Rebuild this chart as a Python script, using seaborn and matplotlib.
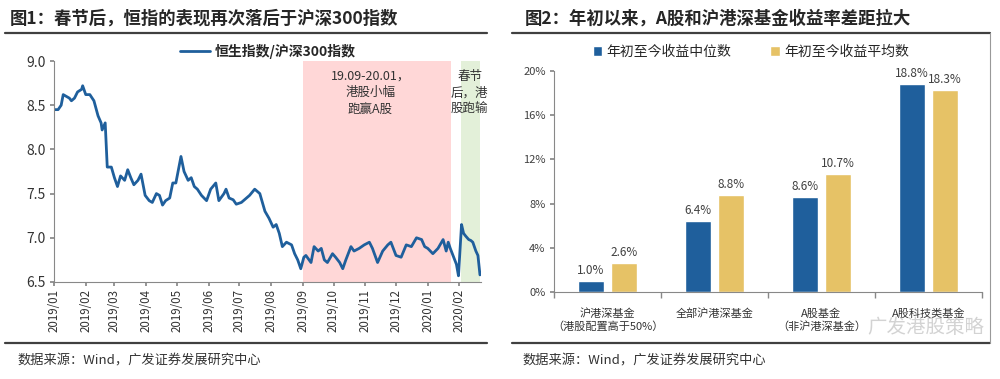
import numpy as np
import pandas as pd
import matplotlib
matplotlib.use("Agg")
import matplotlib.pyplot as plt
import matplotlib.dates as mdates
from matplotlib.lines import Line2D
from matplotlib.ticker import FuncFormatter
import seaborn as sns

# 恒生指数/沪深300指数
ratio_dates = [
    "2019-01-02", "2019-01-05", "2019-01-08", "2019-01-10", "2019-01-13", "2019-01-16",
    "2019-01-18", "2019-01-21", "2019-01-24", "2019-01-28", "2019-01-29", "2019-02-01",
    "2019-02-05", "2019-02-09", "2019-02-13", "2019-02-16", "2019-02-17", "2019-02-20",
    "2019-02-22", "2019-02-26", "2019-03-01", "2019-03-04", "2019-03-07", "2019-03-11",
    "2019-03-14", "2019-03-17", "2019-03-20", "2019-03-24", "2019-03-27", "2019-03-31",
    "2019-04-04", "2019-04-07", "2019-04-11", "2019-04-14", "2019-04-17", "2019-04-20",
    "2019-04-24", "2019-04-27", "2019-04-30", "2019-05-05", "2019-05-08", "2019-05-12",
    "2019-05-15", "2019-05-18", "2019-05-21", "2019-05-25", "2019-05-30", "2019-06-03",
    "2019-06-08", "2019-06-11", "2019-06-16", "2019-06-18", "2019-06-21", "2019-06-25",
    "2019-06-28", "2019-07-03", "2019-07-08", "2019-07-11", "2019-07-16", "2019-07-21",
    "2019-07-26", "2019-07-30", "2019-08-03", "2019-08-06", "2019-08-09", "2019-08-12",
    "2019-08-16", "2019-08-21", "2019-08-24", "2019-08-27", "2019-08-30", "2019-09-02",
    "2019-09-04", "2019-09-09", "2019-09-12", "2019-09-16", "2019-09-19", "2019-09-22",
    "2019-09-25", "2019-09-30", "2019-10-03", "2019-10-07", "2019-10-10", "2019-10-13",
    "2019-10-18", "2019-10-21", "2019-10-26", "2019-10-31", "2019-11-05", "2019-11-08",
    "2019-11-13", "2019-11-18", "2019-11-23", "2019-11-26", "2019-12-01", "2019-12-06",
    "2019-12-11", "2019-12-16", "2019-12-21", "2019-12-26", "2019-12-29", "2020-01-01",
    "2020-01-06", "2020-01-11", "2020-01-16", "2020-01-19", "2020-01-21", "2020-01-23",
    "2020-01-29", "2020-01-31", "2020-02-03", "2020-02-05", "2020-02-07", "2020-02-10",
    "2020-02-12", "2020-02-14", "2020-02-17", "2020-02-19", "2020-02-21",
]
ratio_values = [
    8.45, 8.45, 8.50, 8.62, 8.60, 8.58,
    8.55, 8.58, 8.65, 8.68, 8.72, 8.62,
    8.62, 8.55, 8.38, 8.30, 8.22, 8.30,
    7.80, 7.80, 7.68, 7.58, 7.70, 7.65,
    7.77, 7.68, 7.60, 7.65, 7.72, 7.48,
    7.42, 7.40, 7.50, 7.48, 7.37, 7.42,
    7.45, 7.62, 7.62, 7.92, 7.75, 7.65,
    7.68, 7.58, 7.55, 7.48, 7.42, 7.55,
    7.62, 7.42, 7.50, 7.55, 7.45, 7.43,
    7.38, 7.40, 7.45, 7.48, 7.55, 7.50,
    7.30, 7.22, 7.12, 7.15, 7.05, 6.90,
    6.95, 6.92, 6.82, 6.75, 6.65, 6.78,
    6.80, 6.72, 6.90, 6.85, 6.88, 6.75,
    6.72, 6.82, 6.78, 6.72, 6.65, 6.75,
    6.90, 6.85, 6.88, 6.92, 6.95, 6.88,
    6.72, 6.85, 6.92, 6.95, 6.80, 6.78,
    6.92, 6.90, 7.00, 6.98, 6.90, 6.88,
    6.82, 6.88, 6.98, 6.85, 6.95, 6.88,
    6.70, 6.57, 7.15, 7.05, 7.02, 6.98,
    6.97, 6.95, 6.85, 6.80, 6.58,
]

# 基金收益 (%)
fund_types = ["沪港深基金\n（港股配置高于50%）", "全部沪港深基金",
              "A股基金\n（非沪港深基金）", "A股科技类基金"]
median_ret = [1.0, 6.4, 8.6, 18.8]
mean_ret = [2.6, 8.8, 10.7, 18.3]
series_names = ["年初至今收益中位数", "年初至今收益平均数"]

sns.set_theme(style="white")
plt.rcParams["font.family"] = ["Noto Sans CJK SC", "DejaVu Sans"]
plt.rcParams["axes.unicode_minus"] = False

BLUE = "#1f5f9c"
GOLD = "#e6c266"

fig = plt.figure(figsize=(10, 3.79), dpi=100)

# ---------- chart 1 ----------
ax1 = fig.add_axes([0.054, 0.256, 0.427, 0.583])
df1 = pd.DataFrame({"date": pd.to_datetime(ratio_dates), "ratio": ratio_values})
ax1.axvspan(pd.Timestamp("2019-09-01"), pd.Timestamp("2020-01-24"), color="#ffd7d7", lw=0)
ax1.axvspan(pd.Timestamp("2020-02-02"), pd.Timestamp("2020-02-21"), color="#e3f0d9", lw=0)
sns.lineplot(data=df1, x="date", y="ratio", ax=ax1, color=BLUE, lw=2.0,
             label="恒生指数/沪深300指数")
ax1.set_xlim(pd.Timestamp("2019-01-01"), pd.Timestamp("2020-02-22"))
ax1.set_ylim(6.5, 9.0)
ax1.set_yticks([6.5, 7.0, 7.5, 8.0, 8.5, 9.0])
ax1.yaxis.set_major_formatter(FuncFormatter(lambda v, p: f"{v:.1f}"))
ax1.xaxis.set_major_locator(mdates.MonthLocator())
ax1.xaxis.set_major_formatter(mdates.DateFormatter("%Y/%m"))
ax1.set_xlabel("")
ax1.set_ylabel("")
for sp in ["top", "right"]:
    ax1.spines[sp].set_visible(False)
for sp in ["left", "bottom"]:
    ax1.spines[sp].set_color("#888888")
    ax1.spines[sp].set_linewidth(0.8)
ax1.tick_params(axis="x", bottom=True, direction="out", length=3, color="#888888",
                labelsize=8.3, labelcolor="#333333", rotation=90, pad=2)
ax1.tick_params(axis="y", left=True, direction="out", length=3, color="#888888",
                labelsize=10, labelcolor="#333333", pad=3)
ax1.legend(loc="lower center", bbox_to_anchor=(0.5, 0.985), frameon=False,
           prop={"size": 10, "weight": "bold"}, handlelength=2.2, borderaxespad=0,
           handletextpad=0.3)
ax1.text(pd.Timestamp("2019-11-06"), 8.9, "19.09-20.01，\n港股小幅\n跑赢A股",
         ha="center", va="top", fontsize=9, color="#333333", linespacing=1.35)
ax1.text(pd.Timestamp("2020-02-11"), 8.9, "春节\n后，港\n股跑输",
         ha="center", va="top", fontsize=9, color="#333333", linespacing=1.35)

# ---------- chart 2 ----------
ax2 = fig.add_axes([0.554, 0.2296, 0.428, 0.583])
df2 = pd.DataFrame({
    "type": fund_types * 2,
    "series": [series_names[0]] * 4 + [series_names[1]] * 4,
    "ret": median_ret + mean_ret,
})
sns.barplot(data=df2, x="type", y="ret", hue="series", ax=ax2,
            palette=[BLUE, GOLD], width=0.626, gap=0.22, saturation=1)
for cont in ax2.containers:
    ax2.bar_label(cont, fmt="%.1f%%", padding=3, fontsize=8.5, color="#404040")
ax2.set_ylim(0, 20)
ax2.set_xlim(-0.5, 3.5)
ax2.set_yticks([0, 4, 8, 12, 16, 20])
ax2.yaxis.set_major_formatter(FuncFormatter(lambda v, p: f"{v:.0f}%"))
ax2.set_xlabel("")
ax2.set_ylabel("")
ax2.set_xticks([0, 1, 2, 3])
ax2.set_xticklabels(fund_types)
ax2.set_xticks([-0.5, 0.5, 1.5, 2.5, 3.5], minor=True)
for sp in ["top", "right"]:
    ax2.spines[sp].set_visible(False)
for sp in ["left", "bottom"]:
    ax2.spines[sp].set_color("#888888")
    ax2.spines[sp].set_linewidth(0.8)
ax2.tick_params(axis="x", which="major", bottom=False, labelsize=8,
                labelcolor="#333333", pad=6)
ax2.tick_params(axis="x", which="minor", bottom=True, direction="out", length=4,
                color="#888888")
ax2.tick_params(axis="y", left=True, direction="out", length=3, color="#888888",
                labelsize=8, labelcolor="#404040", pad=3)
ax2.legend(loc="lower center", bbox_to_anchor=(0.46, 1.03), ncol=2, frameon=False,
           fontsize=10, handlelength=0.7, handleheight=0.7, columnspacing=2.8,
           handletextpad=0.3, borderaxespad=0)

# ---------- titles, rules, sources ----------
fig.text(0.010, 0.952, "图1：春节后，恒指的表现再次落后于沪深300指数",
         fontsize=12.5, fontweight="bold", color="#262626", va="center")
fig.text(0.525, 0.952, "图2：年初以来，A股和沪港深基金收益率差距拉大",
         fontsize=12.5, fontweight="bold", color="#262626", va="center")
for x0, x1 in [(0.005, 0.487), (0.512, 0.990)]:
    fig.add_artist(Line2D([x0, x1], [0.914, 0.914], transform=fig.transFigure,
                          color="#404040", lw=1.6))
    fig.add_artist(Line2D([x0, x1], [0.095, 0.095], transform=fig.transFigure,
                          color="#404040", lw=1.6))
fig.add_artist(Line2D([0.990, 0.990], [0.095, 0.914], transform=fig.transFigure,
                      color="#999999", lw=0.8))
fig.text(0.017, 0.048, "数据来源：Wind，广发证券发展研究中心", fontsize=9.5,
         color="#333333", va="center")
fig.text(0.522, 0.048, "数据来源：Wind，广发证券发展研究中心", fontsize=9.5,
         color="#333333", va="center")
fig.text(0.984, 0.135, "广发港股策略", fontsize=14, color="#c8c8c8", alpha=0.8,
         ha="right", va="center")

fig.savefig("out.png", dpi=100)
plt.close(fig)
